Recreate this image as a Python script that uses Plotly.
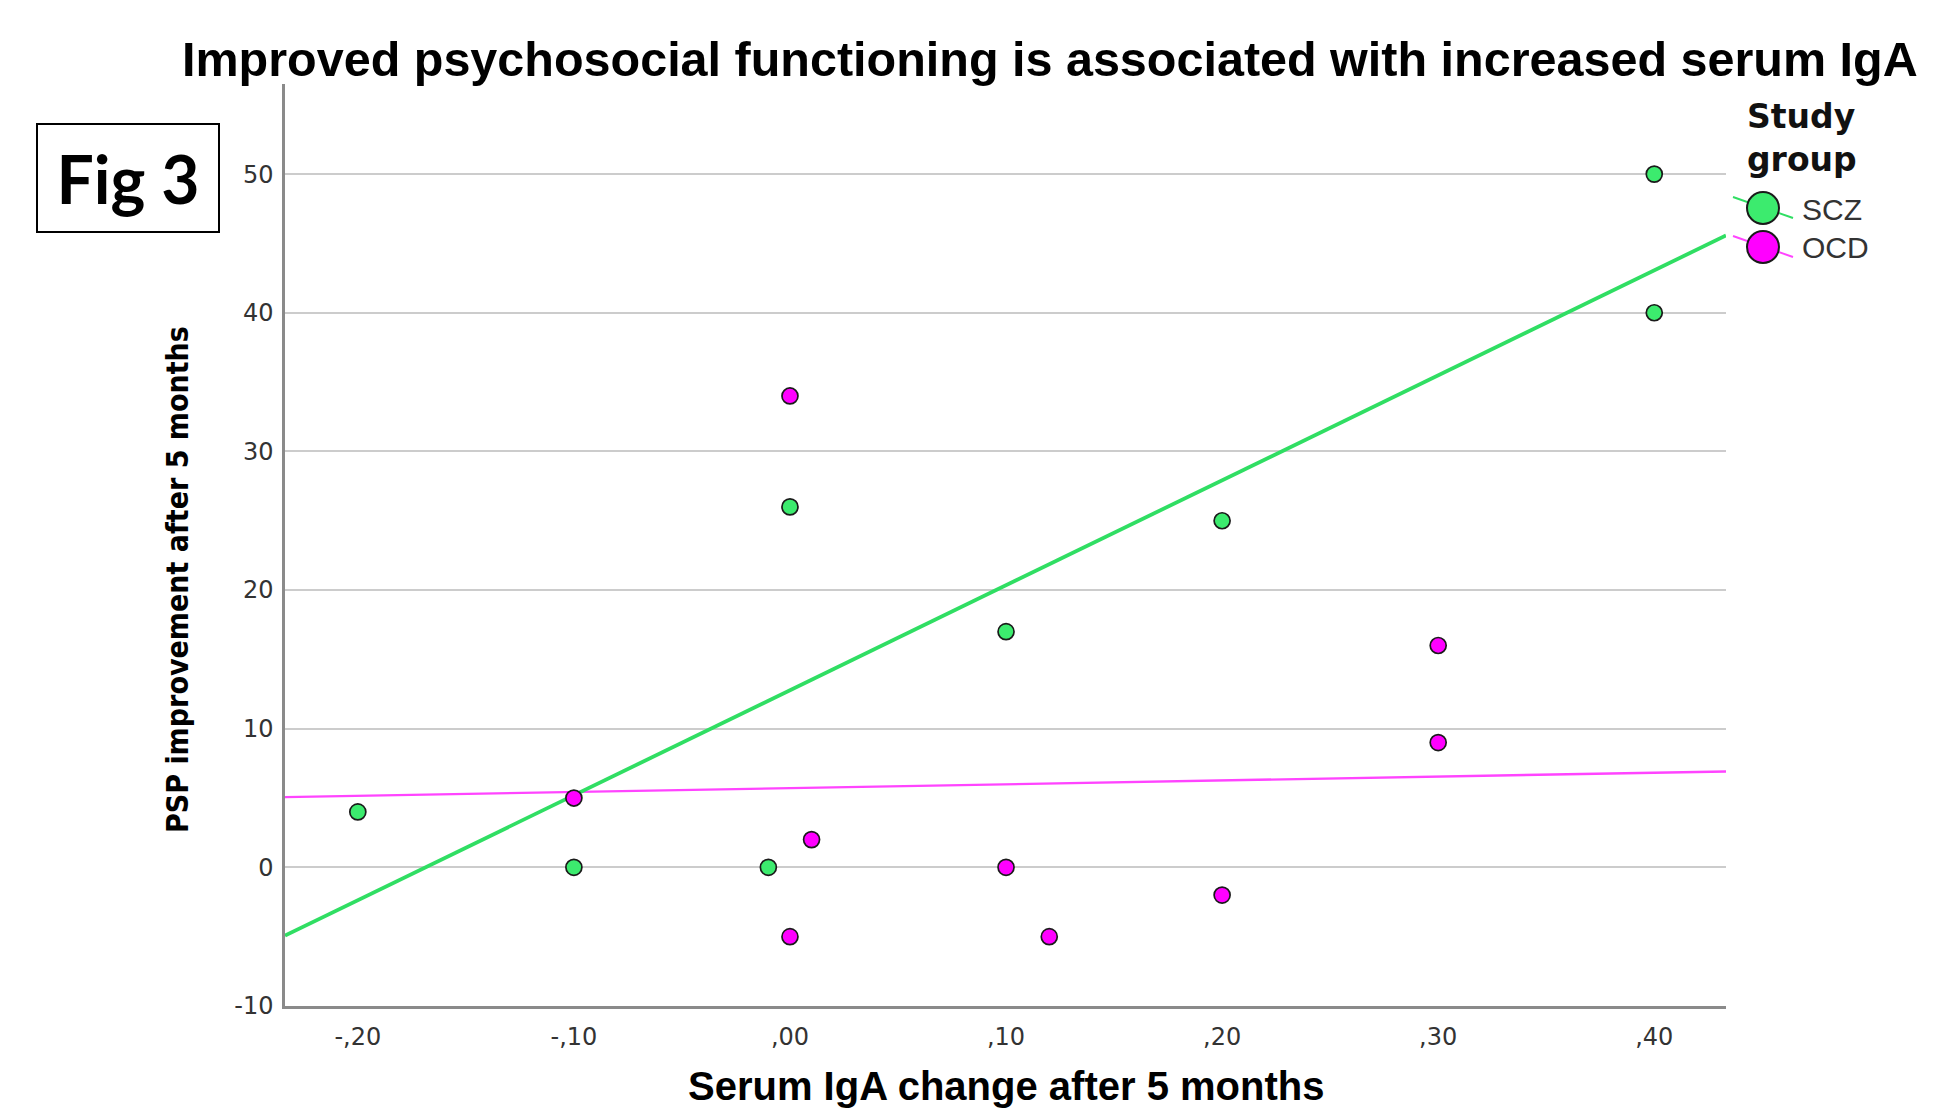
import numpy as np
import plotly.graph_objects as go

# ---- data ----
scz_x = [-0.20, -0.10, -0.01, 0.00, 0.10, 0.20, 0.40, 0.40]
scz_y = [4, 0, 0, 26, 17, 25, 50, 40]
ocd_x = [-0.10, 0.00, 0.01, 0.00, 0.10, 0.12, 0.20, 0.30, 0.30]
ocd_y = [5, 34, 2, -5, 0, -5, -2, 16, 9]

x_tickvals = [-0.2, -0.1, 0.0, 0.1, 0.2, 0.3, 0.4]
x_ticktext = ["-,20", "-,10", ",00", ",10", ",20", ",30", ",40"]
y_tickvals = [-10, 0, 10, 20, 30, 40, 50]
y_ticktext = ["-10", "0", "10", "20", "30", "40", "50"]
groups = ["SCZ", "OCD"]

X_RANGE = [-0.2337, 0.4332]
Y_RANGE = [-10, 56.5]

GREEN_FILL = "#3CEB6E"
GREEN_LINE = "#30DE63"
MAG_FILL = "#FF00FF"
MAG_LINE = "#FF44FF"
FONT = "Liberation Sans, Arial, sans-serif"
WIDE = "DejaVu Sans, Verdana, sans-serif"

# page has an 8px body margin; figure sized to fit the window
OFF = 8
W, H = 1918, 1103
ML, MR, MT, MB = 277, 200, 76, 105
pw = W - ML - MR
ph = H - MT - MB


def px(page_x):
    return (page_x - OFF - ML) / pw


def py(page_y):
    return (H - MB - (page_y - OFF)) / ph


fig = go.Figure()

# fit lines (least squares from the data, over the axis range)
xs = np.array(X_RANGE)
for gx, gy, col, wd in [(ocd_x, ocd_y, MAG_LINE, 2.4), (scz_x, scz_y, GREEN_LINE, 3.8)]:
    b1, b0 = np.polyfit(gx, gy, 1)
    fig.add_trace(go.Scatter(x=xs, y=b0 + b1 * xs, mode="lines",
                             line=dict(color=col, width=wd),
                             showlegend=False, hoverinfo="skip"))

# points
for gx, gy, name, fill in [(scz_x, scz_y, groups[0], GREEN_FILL), (ocd_x, ocd_y, groups[1], MAG_FILL)]:
    fig.add_trace(go.Scatter(x=gx, y=gy, mode="markers", name=name, showlegend=False,
                             marker=dict(size=16, color=fill,
                                         line=dict(color="#1a1a1a", width=1.7))))

# ---- legend drawn as decoration (paper coords) ----
shapes = []
annotations = []
leg_items = [(groups[0], GREEN_FILL, GREEN_LINE, 208), (groups[1], MAG_FILL, MAG_LINE, 247)]
for name, fill, lcol, cy in leg_items:
    cx, r = 1763, 16
    shapes.append(dict(type="line", xref="paper", yref="paper",
                       x0=px(cx - 30), y0=py(cy - 11), x1=px(cx + 30), y1=py(cy + 10),
                       line=dict(color=lcol, width=2)))
    shapes.append(dict(type="circle", xref="paper", yref="paper",
                       x0=px(cx - r), x1=px(cx + r), y0=py(cy + r), y1=py(cy - r),
                       fillcolor=fill, line=dict(color="#1a1a1a", width=2)))
    annotations.append(dict(text=name, xref="paper", yref="paper", x=px(1800), y=py(cy + 1),
                            xanchor="left", yanchor="middle", showarrow=False,
                            font=dict(family=FONT, size=30, color="#333333")))

annotations += [
    dict(text="Study<br>group", xref="paper", yref="paper", x=px(1745), y=py(138),
         xanchor="left", yanchor="middle", align="left", showarrow=False,
         font=dict(family=WIDE, size=33, color="#111111", weight="bold")),
    dict(text="Improved psychosocial functioning is associated with increased serum IgA",
         xref="paper", yref="paper", x=px(180), y=py(59), xanchor="left", yanchor="middle",
         showarrow=False,
         font=dict(family=FONT, size=48.5, color="#000000", weight="bold")),
    dict(text="Serum IgA change after 5 months",
         xref="paper", yref="paper", x=px(1006), y=py(1086), xanchor="center", yanchor="middle",
         showarrow=False,
         font=dict(family=FONT, size=40, color="#000000", weight="bold")),
    dict(text="PSP improvement after 5 months",
         xref="paper", yref="paper", x=px(177), y=py(580), xanchor="center", yanchor="middle",
         textangle=-90, showarrow=False,
         font=dict(family="Liberation Sans Narrow, DejaVu Sans Condensed, Arial Narrow, sans-serif",
                   size=30, color="#000000", weight="bold")),
    dict(text="Fig 3",
         xref="paper", yref="paper", x=px(128), y=py(178), xanchor="center", yanchor="middle",
         showarrow=False, width=180, height=106, align="center", valign="middle",
         bordercolor="#000000", borderwidth=2, borderpad=0, bgcolor="white",
         font=dict(family="Lato, Noto Sans, sans-serif", size=66, color="#000000", weight="bold")),
]

fig.update_layout(
    width=W, height=H,
    margin=dict(l=ML, r=MR, t=MT, b=MB),
    paper_bgcolor="white", plot_bgcolor="white",
    font=dict(family=FONT, color="#222222"),
    showlegend=False,
    xaxis=dict(
        range=X_RANGE, tickvals=x_tickvals, ticktext=x_ticktext,
        showgrid=False, zeroline=False,
        showline=True, linecolor="#8a8a8a", linewidth=2.5,
        ticks="", ticklabelstandoff=7,
        tickfont=dict(family=WIDE, size=24, color="#333333"),
    ),
    yaxis=dict(
        range=Y_RANGE, tickvals=y_tickvals, ticktext=y_ticktext,
        showgrid=True, gridcolor="#cccccc", gridwidth=2.2, zeroline=False,
        showline=True, linecolor="#8a8a8a", linewidth=2.5,
        ticks="", ticklabelstandoff=4,
        tickfont=dict(family=WIDE, size=24, color="#333333"),
    ),
    shapes=shapes,
    annotations=annotations,
)

fig.write_html("out.html")
